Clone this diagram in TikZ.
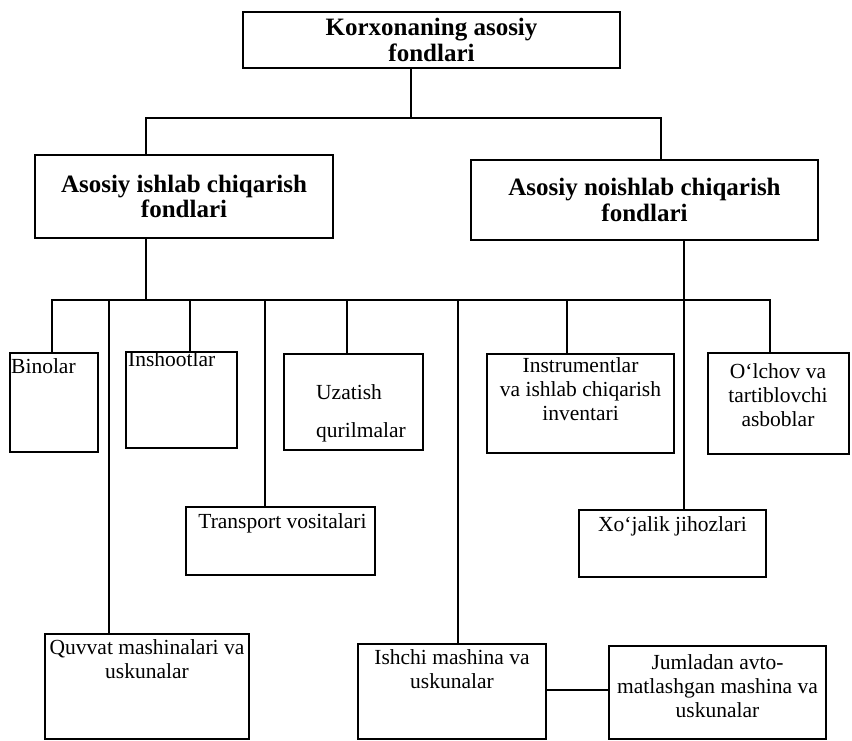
\documentclass[tikz,border=0pt]{standalone}
\usepackage{fontspec}
\setmainfont{Liberation Serif}
\newcommand{\boxhead}{\fontsize{25}{25.5}\selectfont\bfseries}
\newcommand{\boxleaf}{\fontsize{21.5}{24}\selectfont}
\tikzstyle{block} = [draw, rectangle, line width=2pt, inner sep=0pt]
\tikzstyle{head} = [block, font=\boxhead, align=center]
\tikzstyle{lbl} = [font=\boxleaf, align=center, inner sep=1pt]
\tikzstyle{link} = [line width=1.6pt, line cap=rect]

\begin{document}
\begin{tikzpicture}[x=1pt, y=-1pt]
\path [use as bounding box, fill=white] (0,0) rectangle (852,741);
% Nodes
	\node [head, minimum width=377pt, minimum height=56pt] (top) at (431.5,40) {Korxonaning asosiy\\ fondlari};
	\node [head, minimum width=298pt, minimum height=83pt] (ishlab) at (184,196.5) {Asosiy ishlab chiqarish\\ fondlari};
	\node [head, minimum width=347pt, minimum height=80pt] (noishlab) at (644.5,200) {Asosiy noishlab chiqarish\\ fondlari};
	\node [block, minimum width=88pt, minimum height=99pt,
		label={[lbl, anchor=north west, xshift=1pt, yshift=-5pt]north west:Binolar}] (bin) at (54,402.5) {};
	\node [block, minimum width=111pt, minimum height=96pt,
		label={[lbl, anchor=north west, xshift=2pt, yshift=1pt]north west:Inshootlar}] (insh) at (181.5,400) {};
	\node [block, minimum width=139pt, minimum height=96pt,
		label={[lbl, align=left, anchor=north west, xshift=32pt, yshift=-30pt]north west:Uzatish\\[14pt]qurilmalar}] (uzat) at (353.5,402) {};
	\node [block, minimum width=187pt, minimum height=99pt,
		label={[lbl, anchor=north, yshift=-3pt]north:Instrumentlar\\va ishlab chiqarish\\inventari}] (instr) at (580.5,403.5) {};
	\node [block, minimum width=141pt, minimum height=101pt,
		label={[lbl, anchor=north, yshift=-10pt]north:O‘lchov va\\tartiblovchi\\asboblar}] (olch) at (778,403.5) {};
	\node [block, minimum width=189pt, minimum height=68pt,
		label={[lbl, anchor=north, xshift=2pt, yshift=-6pt]north:Transport vositalari}] (trans) at (280.5,541) {};
	\node [block, minimum width=187pt, minimum height=67pt,
		label={[lbl, anchor=north, yshift=-6pt]north:Xo‘jalik jihozlari}] (xoj) at (672.5,543.5) {};
	\node [block, minimum width=204pt, minimum height=105pt,
		label={[lbl, anchor=north, yshift=-5pt]north:Quvvat mashinalari va\\uskunalar}] (quv) at (147,686.5) {};
	\node [block, minimum width=188pt, minimum height=95pt,
		label={[lbl, anchor=north, yshift=-5pt]north:Ishchi mashina va\\uskunalar}] (ishchi) at (452,691.5) {};
	\node [block, minimum width=217pt, minimum height=93pt,
		label={[lbl, anchor=north, yshift=-8pt]north:Jumladan avto-\\matlashgan mashina va\\uskunalar}] (juml) at (717.5,692.5) {};
	\coordinate (tj) at (411,118);
	\coordinate (tl) at (146,118);
	\coordinate (tr) at (661,118);
	\coordinate (bj) at (146,300);
	\coordinate (bL) at (52,300);
	\coordinate (bR) at (770,300);
% Connections
	\draw [link] (tj |- top.south) -- (tj);
	\draw [link] (tl |- ishlab.north) -- (tl) -- (tr) -- (tr |- noishlab.north);
	\draw [link] (bj |- ishlab.south) -- (bj);
	\draw [link] (bL) -- (bR);
	\foreach \x/\n in {52/bin, 109/quv, 190/insh, 265/trans, 347/uzat, 458/ishchi, 567/instr, 770/olch}
		\draw [link] (\x,0 |- bL) -- (\x,0 |- \n.north);
	\draw [link] (684,0 |- noishlab.south) -- (684,0 |- xoj.north);
	\draw [link] (ishchi.east |- 0,690) -- (juml.west |- 0,690);
\end{tikzpicture}
\end{document}
